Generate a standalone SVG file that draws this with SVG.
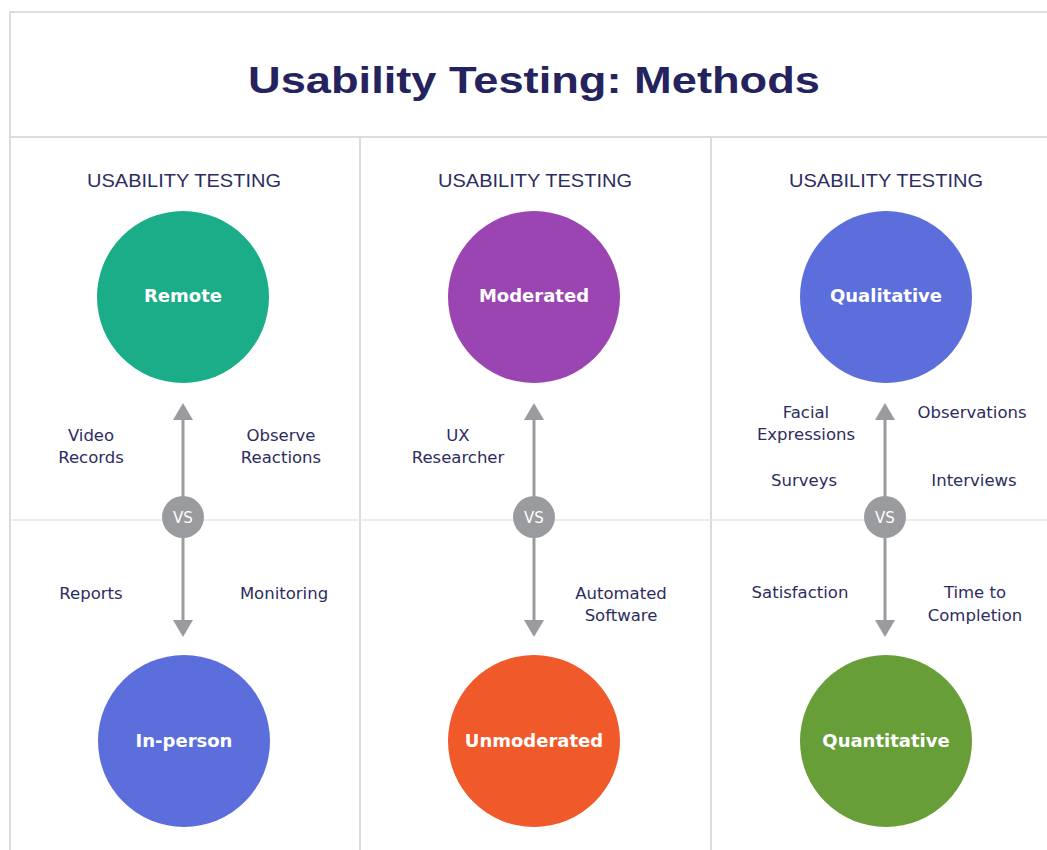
<svg xmlns="http://www.w3.org/2000/svg" width="1047" height="850" viewBox="0 0 1047 850">
<defs>
<style>
.frame{fill:none;stroke:#dcdcdc;stroke-width:2}
.grid{stroke:#e6e6e6;stroke-width:1.5}
.title{font-family:"Liberation Sans",Arial,sans-serif;font-weight:bold;font-size:36px;fill:#25235e;text-anchor:middle}
.head{font-family:"Liberation Sans",Arial,sans-serif;font-size:19px;fill:#2d2c5e;text-anchor:middle}
.node{font-family:"DejaVu Sans",sans-serif;font-weight:bold;font-size:18px;fill:#ffffff;text-anchor:middle}
.lbl{font-family:"DejaVu Sans",sans-serif;font-size:16.5px;fill:#2d2c5e;text-anchor:middle}
.vs{font-family:"DejaVu Sans",sans-serif;font-size:15px;fill:#ffffff;text-anchor:middle}
.ax{stroke:#9a9b9e;stroke-width:3}
.ah{fill:#9a9b9e}
</style>
</defs>
<rect width="1047" height="850" fill="#ffffff"/>
<g id="frame">
<path class="frame" d="M1047 12 H10 V850"/>
<line class="frame" x1="10" y1="137" x2="1047" y2="137"/>
<line class="frame" x1="360" y1="137" x2="360" y2="850"/>
<line class="frame" x1="711" y1="137" x2="711" y2="850"/>
<line class="grid" x1="10" y1="520" x2="1047" y2="520"/>
</g>
<text class="title" x="534" y="93" textLength="572" lengthAdjust="spacingAndGlyphs">Usability Testing: Methods</text>
<g id="headers">
<text class="head" x="184" y="187" textLength="194" lengthAdjust="spacingAndGlyphs">USABILITY TESTING</text>
<text class="head" x="535" y="187" textLength="194" lengthAdjust="spacingAndGlyphs">USABILITY TESTING</text>
<text class="head" x="886" y="187" textLength="194" lengthAdjust="spacingAndGlyphs">USABILITY TESTING</text>
</g>
<g id="connectors">
<g id="conn-1">
<line class="ax" x1="183" y1="418" x2="183" y2="622"/>
<polygon class="ah" points="183,403 173,420 193,420"/>
<polygon class="ah" points="183,637 173,620 193,620"/>
</g>
<g id="conn-2">
<line class="ax" x1="534" y1="418" x2="534" y2="622"/>
<polygon class="ah" points="534,403 524,420 544,420"/>
<polygon class="ah" points="534,637 524,620 544,620"/>
</g>
<g id="conn-3">
<line class="ax" x1="885" y1="418" x2="885" y2="622"/>
<polygon class="ah" points="885,403 875,420 895,420"/>
<polygon class="ah" points="885,637 875,620 895,620"/>
</g>
</g>
<g id="vs-1"><circle cx="183" cy="517" r="21" fill="#9a9b9e"/><text class="vs" x="183" y="523">VS</text></g>
<g id="vs-2"><circle cx="534" cy="517" r="21" fill="#9a9b9e"/><text class="vs" x="534" y="523">VS</text></g>
<g id="vs-3"><circle cx="885" cy="517" r="21" fill="#9a9b9e"/><text class="vs" x="885" y="523">VS</text></g>
<g id="remote"><circle cx="183" cy="297" r="86" fill="#1aad88"/><text class="node" x="183" y="302">Remote</text></g>
<g id="in-person"><circle cx="184" cy="741" r="86" fill="#5b6edc"/><text class="node" x="184" y="747">In-person</text></g>
<g id="moderated"><circle cx="534" cy="297" r="86" fill="#9b45b3"/><text class="node" x="534" y="302">Moderated</text></g>
<g id="unmoderated"><circle cx="534" cy="741" r="86" fill="#f0592a"/><text class="node" x="534" y="747">Unmoderated</text></g>
<g id="qualitative"><circle cx="886" cy="297" r="86" fill="#5b6edc"/><text class="node" x="886" y="302">Qualitative</text></g>
<g id="quantitative"><circle cx="886" cy="741" r="86" fill="#679e38"/><text class="node" x="886" y="747">Quantitative</text></g>
<g id="labels">
<text class="lbl" x="91" y="441">Video</text>
<text class="lbl" x="91" y="463">Records</text>
<text class="lbl" x="281" y="441">Observe</text>
<text class="lbl" x="281" y="463">Reactions</text>
<text class="lbl" x="91" y="599">Reports</text>
<text class="lbl" x="284" y="599">Monitoring</text>
<text class="lbl" x="458" y="441">UX</text>
<text class="lbl" x="458" y="463">Researcher</text>
<text class="lbl" x="621" y="599">Automated</text>
<text class="lbl" x="621" y="621">Software</text>
<text class="lbl" x="806" y="418">Facial</text>
<text class="lbl" x="806" y="440">Expressions</text>
<text class="lbl" x="972" y="418">Observations</text>
<text class="lbl" x="804" y="486">Surveys</text>
<text class="lbl" x="974" y="486">Interviews</text>
<text class="lbl" x="800" y="598">Satisfaction</text>
<text class="lbl" x="975" y="598">Time to</text>
<text class="lbl" x="975" y="621">Completion</text>
</g>
</svg>
